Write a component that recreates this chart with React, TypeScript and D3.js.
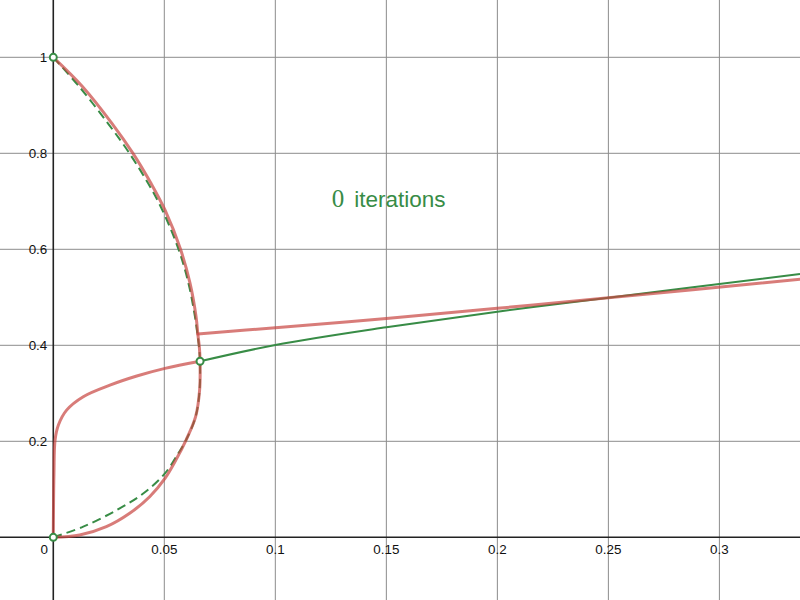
import { type FC, useEffect, useRef } from 'react';
import * as d3 from 'd3';

type Pt = [number, number];

// tick values
const xTicks = [0.05, 0.1, 0.15, 0.2, 0.25, 0.3];
const yTicks = [0.2, 0.4, 0.6, 0.8, 1];

// red: outer curve from (0,1) round to (0,0)
const redOuter: Pt[] = [
  [0, 1], [0.0132, 0.9388], [0.0264, 0.8625], [0.0359, 0.8], [0.044, 0.7375],
  [0.0503, 0.682], [0.0573, 0.6], [0.0616, 0.529], [0.0643, 0.4596],
  [0.0651, 0.4235], [0.0658, 0.395], [0.0661, 0.3667], [0.0659, 0.3069],
  [0.0641, 0.2513], [0.0598, 0.2027], [0.0552, 0.161], [0.0503, 0.1229],
  [0.0434, 0.0846], [0.0344, 0.05], [0.0239, 0.0221], [0.0119, 0.0048], [0, 0],
];
// red: inner curve from (0,0) up to the fixed point
const redInner: Pt[] = [
  [0, 0], [0.0003, 0.133], [0.0008, 0.2027], [0.0023, 0.234], [0.006, 0.265],
  [0.0135, 0.293], [0.0255, 0.317], [0.0376, 0.336], [0.0503, 0.352],
  [0.0661, 0.3667],
];
// red: straight-ish branch to the right
const redLine: Pt[] = [
  [0.0651, 0.4235], [0.1, 0.4367], [0.15, 0.456], [0.2, 0.477],
  [0.25, 0.499], [0.3363, 0.5375],
];
// green dashed: upper and lower
const greenUpper: Pt[] = [
  [0, 1], [0.0117, 0.9388], [0.0246, 0.8625], [0.0343, 0.8], [0.0427, 0.7375],
  [0.0491, 0.682], [0.0564, 0.6], [0.0609, 0.529], [0.0638, 0.4596],
  [0.0649, 0.4235], [0.0657, 0.395], [0.0661, 0.3667],
];
const greenLower: Pt[] = [
  [0, 0], [0.0135, 0.0221], [0.0286, 0.0569], [0.0405, 0.0913], [0.0503, 0.1333],
  [0.0563, 0.175], [0.0598, 0.2027], [0.0641, 0.2513], [0.0659, 0.3069],
  [0.0661, 0.3667],
];
// green solid branch
const greenLine: Pt[] = [
  [0.0661, 0.3667], [0.1, 0.4006], [0.15, 0.4375], [0.2, 0.47],
  [0.25, 0.499], [0.3363, 0.5485],
];
const points: Pt[] = [[0, 1], [0, 0], [0.0661, 0.3667]];

const red = '#c74440';
const green = '#388c46';
const gridColor = '#8c8c8c';
const sans = 'Arial, "Liberation Sans", sans-serif';

const W = 800;
const H = 600;

const x = d3.scaleLinear().domain([-0.024, 0.3363]).range([0, W]);
const y = d3.scaleLinear().domain([-0.1306, 1.1194]).range([H, 0]);

const App: FC = () => {
  const ref = useRef<SVGGElement>(null);

  useEffect(() => {
    const { current: dom } = ref;
    if (!dom) return;
    const g = d3.select(dom);
    g.selectAll('*').remove();

    const line = d3.line<Pt>()
      .x((d) => x(d[0]))
      .y((d) => y(d[1]))
      .curve(d3.curveCatmullRom.alpha(0.5));

    // green
    [greenUpper, greenLower].forEach((pts) => {
      g.append('path').datum(pts)
        .attr('d', line).attr('fill', 'none')
        .attr('stroke', green).attr('stroke-width', 2)
        .attr('stroke-dasharray', '9,5');
    });
    g.append('path').datum(greenLine)
      .attr('d', line).attr('fill', 'none')
      .attr('stroke', green).attr('stroke-width', 2);

    // red (translucent)
    [redOuter, redInner, redLine].forEach((pts) => {
      g.append('path').datum(pts)
        .attr('d', line).attr('fill', 'none')
        .attr('stroke', red).attr('stroke-width', 3)
        .attr('stroke-opacity', 0.7)
        .attr('stroke-linejoin', 'round').attr('stroke-linecap', 'round');
    });

    // open points
    g.selectAll('circle.pt').data(points).join('circle')
      .attr('class', 'pt')
      .attr('cx', (d) => x(d[0])).attr('cy', (d) => y(d[1]))
      .attr('r', 3.5).attr('fill', '#fff')
      .attr('stroke', green).attr('stroke-width', 2);
  }, []);

  return (
    <svg
      width={W}
      height={H}
      style={{ position: 'absolute', left: 0, top: 0 }}
    >
      <rect width={W} height={H} fill="#fff" />
      <g stroke={gridColor} strokeWidth={1}>
        {xTicks.map((t) => (
          <line key={`gx${t}`} x1={x(t)} x2={x(t)} y1={0} y2={H} />
        ))}
        {yTicks.map((t) => (
          <line key={`gy${t}`} x1={0} x2={W} y1={y(t)} y2={y(t)} />
        ))}
      </g>
      <line x1={x(0)} x2={x(0)} y1={0} y2={H} stroke="#222" strokeWidth={1.6} />
      <line x1={0} x2={W} y1={y(0)} y2={y(0)} stroke="#222" strokeWidth={1.6} />
      <g fontFamily={sans} fontSize={13.4} fill="#111">
        {xTicks.map((t) => (
          <text key={`xl${t}`} x={x(t)} y={y(0) + 16.5} textAnchor="middle">
            {t}
          </text>
        ))}
        {yTicks.map((t) => (
          <text key={`yl${t}`} x={x(0) - 6} y={y(t) + 4.8} textAnchor="end">
            {t}
          </text>
        ))}
        <text x={x(0) - 9} y={y(0) + 16.5} textAnchor="middle">0</text>
      </g>
      <g ref={ref} />
      <text x={x(0.1254)} y={y(0.6875)} fill={green}>
        <tspan fontFamily='"Liberation Serif", "Times New Roman", serif' fontSize={25}>
          0
        </tspan>
        <tspan dx={10} fontFamily={sans} fontSize={22.5}>
          iterations
        </tspan>
      </text>
    </svg>
  );
};

export default App;
